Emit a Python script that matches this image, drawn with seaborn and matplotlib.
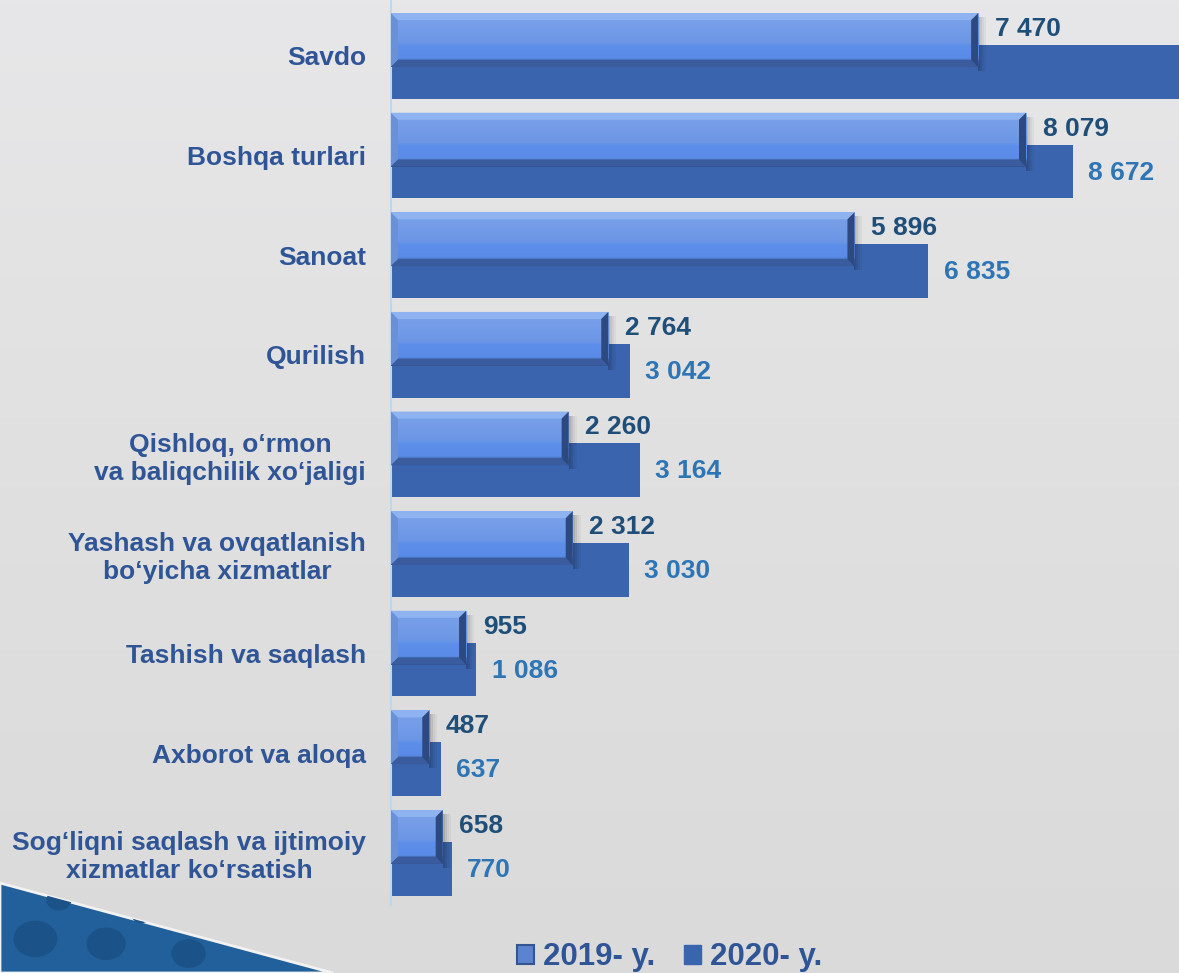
import matplotlib
matplotlib.use('Agg')
import matplotlib.pyplot as plt
import numpy as np
import seaborn as sns
from matplotlib.colors import LinearSegmentedColormap
from matplotlib.patches import Polygon, Rectangle, Patch

# data
categories = ['Savdo', 'Boshqa turlari', 'Sanoat', 'Qurilish',
              'Qishloq, o‘rmon\nva baliqchilik xo‘jaligi',
              'Yashash va ovqatlanish\nbo‘yicha xizmatlar',
              'Tashish va saqlash', 'Axborot va aloqa',
              'Sog‘liqni saqlash va ijtimoiy\nxizmatlar ko‘rsatish']
y2019 = [7470, 8079, 5896, 2764, 2260, 2312, 955, 487, 658]
y2020 = [10400, 8672, 6835, 3042, 3164, 3030, 1086, 637, 770]  # Savdo 2020 cut off in source
legend_labels = ['2019- y.', '2020- y.']

c2019 = '#6f98e6'
c2020 = '#3a64ad'
cat_color = '#2f5597'

sns.set_theme(style='white')
plt.rcParams['font.family'] = ['Liberation Sans', 'DejaVu Sans']

W, H = 1179, 973
fig = plt.figure(figsize=(W / 100, H / 100), dpi=100)

# background
bg = fig.add_axes([0, 0, 1, 1], zorder=-10)
grad = np.linspace(0, 1, 256).reshape(-1, 1)
bg_cmap = LinearSegmentedColormap.from_list('bg', ['#e7e7e9', '#e0e0e0', '#dadada'])
bg.imshow(grad, cmap=bg_cmap, aspect='auto', extent=(0, 1, 0, 1), origin='upper')
tri = Polygon([(0, 1 - 883 / H), (333 / W, 0), (0, 0)], closed=True,
              facecolor='#22609c', edgecolor='#f2f2f2', lw=2)
bg.add_patch(tri)
for (cx, cy, r) in [(0.03, 0.035, 0.018), (0.09, 0.03, 0.016), (0.16, 0.02, 0.014),
                    (0.05, 0.075, 0.01), (0.12, 0.06, 0.008)]:
    c = plt.Circle((cx, cy), r, color='#1b5288')
    bg.add_patch(c)
    c.set_clip_path(tri)
bg.set_xlim(0, 1)
bg.set_ylim(0, 1)
bg.axis('off')

# main axes
ax = fig.add_axes([391 / W, (H - 905) / H, 1 - 391 / W, 905 / H])
ax.patch.set_alpha(0)

n0 = len(ax.patches)
sns.barplot(x=y2020, y=categories, orient='h', color=c2020, saturation=1,
            width=0.54, errorbar=None, ax=ax)
p2020 = ax.patches[n0:]
for p in p2020:
    p.set_y(p.get_y() + 0.16)
    p.set_linewidth(0)

n1 = len(ax.patches)
sns.barplot(x=y2019, y=categories, orient='h', color=c2019, saturation=1,
            width=0.54, errorbar=None, ax=ax)
p2019 = ax.patches[n1:]
for p in p2019:
    p.set_y(p.get_y() - 0.16)
    p.set_linewidth(0)

xmax = (W - 391) / 0.0786
px_x = xmax / (W - 391)
px_y = (8.524 + 0.562) / 905

bar_cmap = LinearSegmentedColormap.from_list(
    'bar', [(0, '#8db1f0'), (0.06, '#7aa1ea'), (0.55, '#6c96e5'), (0.6, '#5d8fea'),
            (0.84, '#5a8be6'), (0.88, '#4068ac'), (1, '#2e4c88')])
for p in p2019:
    x0, y0 = p.get_x(), p.get_y()
    x1, y1 = x0 + p.get_width(), y0 + p.get_height()
    bw, bh = 7 * px_x, 7 * px_y
    # soft shadow on the right
    for k, a in enumerate([0.22, 0.14, 0.08, 0.04]):
        ax.add_patch(Rectangle((x1 + k * 2 * px_x, y0 + 4 * px_y), 2 * px_x,
                               (y1 - y0), facecolor='black', alpha=a, lw=0, zorder=2.5))
    im = ax.imshow(grad, cmap=bar_cmap, aspect='auto', extent=(x0, x1, y1, y0),
                   origin='upper', zorder=3)
    im.set_clip_path(p)
    ax.add_patch(Polygon([(x0, y0), (x0 + bw, y0 + bh), (x0 + bw, y1 - bh), (x0, y1)],
                         facecolor='#6a90d8', lw=0, zorder=3.2))
    ax.add_patch(Polygon([(x0, y1), (x1, y1), (x1 - bw, y1 - bh), (x0 + bw, y1 - bh)],
                         facecolor='#3a5c9e', lw=0, zorder=3.2))
    ax.add_patch(Polygon([(x1 - bw, y0 + bh), (x1, y0), (x1, y1), (x1 - bw, y1 - bh)],
                         facecolor='#2d4a80', lw=0, zorder=3.3))
    ax.add_patch(Polygon([(x0, y0), (x1, y0), (x1 - bw, y0 + bh), (x0 + bw, y0 + bh)],
                         facecolor='#8fb3f1', lw=0, zorder=3.2))

ax.set_xlim(0, xmax)
ax.set_ylim(8.524, -0.562)

def fmt(v):
    return f'{v:,}'.replace(',', ' ')

for i, v in enumerate(y2019):
    ax.annotate(fmt(v), xy=(v, i - 0.27), xytext=(12, 0), textcoords='offset points',
                va='center', ha='left', fontsize=19, fontweight='bold', color='#1f4e79',
                zorder=5)
for i, v in enumerate(y2020):
    ax.annotate(fmt(v), xy=(v, i + 0.17), xytext=(11, 0), textcoords='offset points',
                va='center', ha='left', fontsize=19, fontweight='bold', color='#2e75b6',
                zorder=5)

ax.set_xlabel('')
ax.set_ylabel('')
ax.set_xticks([])
ax.tick_params(axis='y', length=0, pad=18)
for lbl in ax.get_yticklabels():
    lbl.set_fontsize(19)
    lbl.set_fontweight('bold')
    lbl.set_color(cat_color)
    lbl.set_multialignment('center')
for s in ['top', 'right', 'bottom']:
    ax.spines[s].set_visible(False)
ax.spines['left'].set_color('#bdd7ee')
ax.spines['left'].set_linewidth(1.5)

handles = [Patch(facecolor='#5a84d0', edgecolor='#34558f', lw=1.5),
           Patch(facecolor=c2020, edgecolor=c2020)]
fig.legend(handles, legend_labels, loc='center', bbox_to_anchor=(0.568, 0.016), ncol=2,
           frameon=False, prop={'weight': 'bold', 'size': 22.5}, labelcolor=cat_color,
           handlelength=0.55, handleheight=0.55, handletextpad=0.3, columnspacing=0.9)

fig.savefig('out.png', dpi=100)
